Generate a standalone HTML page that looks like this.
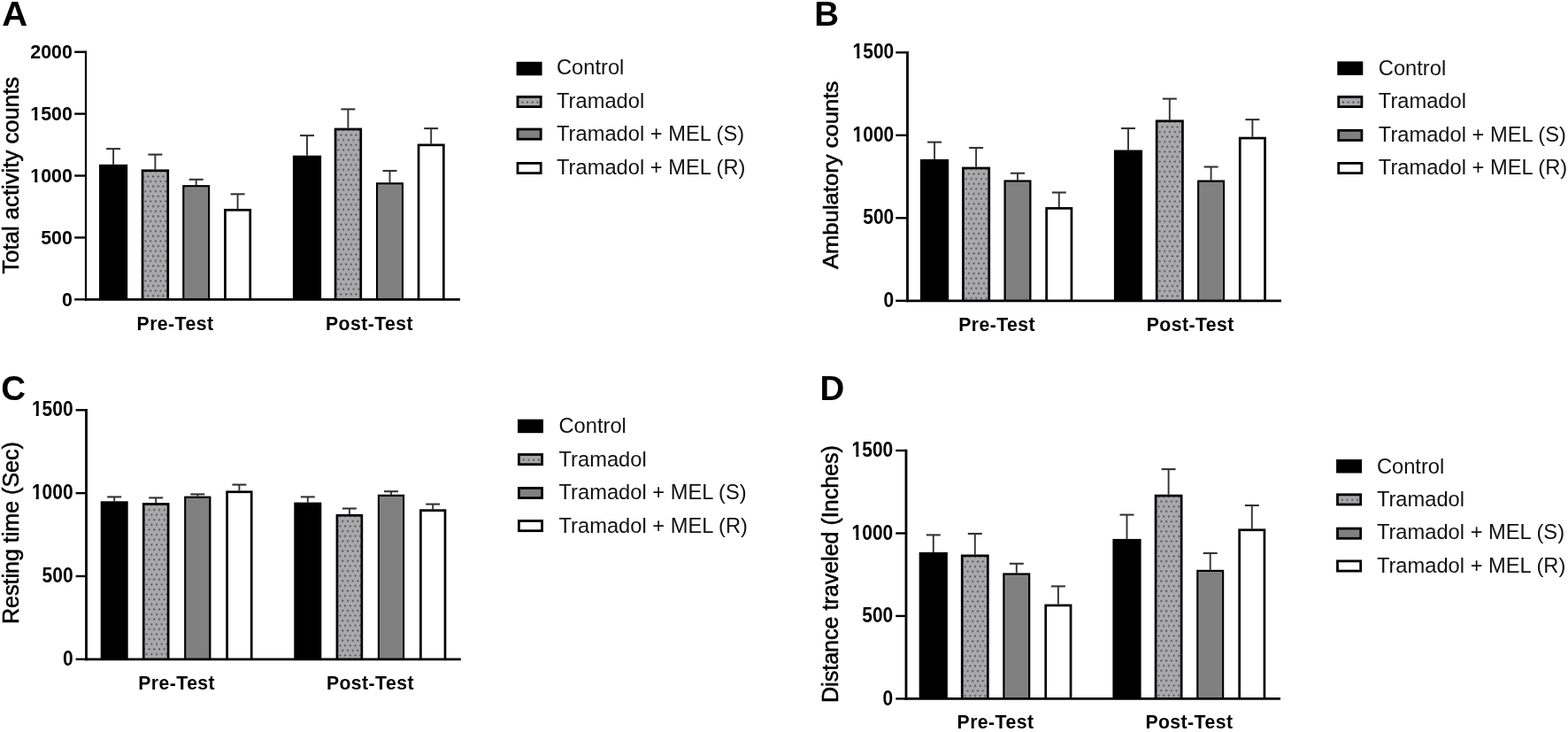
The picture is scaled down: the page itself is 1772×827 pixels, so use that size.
<!DOCTYPE html>
<html><head><meta charset="utf-8"><title>Figure</title>
<style>
html,body{margin:0;padding:0;background:#fff;}
body{width:1772px;height:827px;overflow:hidden;}
svg{display:block;}
text{font-family:'Liberation Sans', Arial, Helvetica, sans-serif;fill:#000;}
.tick{font-weight:bold;text-anchor:end;}
.xl{font-size:21.2px;letter-spacing:0.45px;font-weight:bold;text-anchor:middle;}
.yl{font-weight:normal;stroke:#000;stroke-width:0.55px;}
.pl{font-size:38.5px;font-weight:bold;}
.lg{font-size:23.7px;fill:#111;}
.ax{stroke:#000;stroke-width:2.8;}
.tk{stroke:#000;stroke-width:2.4;}
.eb{stroke:#333;stroke-width:1.9;}
.ec{stroke:#333;stroke-width:2.1;}
</style></head>
<body>
<svg width="1772" height="827" viewBox="0 0 1772 827">
<defs>
<pattern id="dots" patternUnits="userSpaceOnUse" x="0" y="0" width="5.7" height="11.24">
<rect width="5.7" height="11.24" fill="#a9a9ac"/>
<rect x="1.0" y="1.0" width="2.1" height="1.7" fill="#4a4a4a"/>
<rect x="3.85" y="6.62" width="2.1" height="1.7" fill="#4a4a4a"/>
</pattern>
<pattern id="ptA1" patternUnits="userSpaceOnUse" x="159.7" y="191.4" width="5.7" height="11.24"><rect width="5.7" height="11.24" fill="#a9a9ac"/><rect x="3.8" y="1.45" width="2.1" height="1.7" fill="#4a4a4a"/><rect x="0.95" y="7.07" width="2.1" height="1.7" fill="#4a4a4a"/></pattern><pattern id="ptA5" patternUnits="userSpaceOnUse" x="377.7" y="144.6" width="5.7" height="11.24"><rect width="5.7" height="11.24" fill="#a9a9ac"/><rect x="3.8" y="1.45" width="2.1" height="1.7" fill="#4a4a4a"/><rect x="0.95" y="7.07" width="2.1" height="1.7" fill="#4a4a4a"/></pattern><pattern id="plA" patternUnits="userSpaceOnUse" x="585.55" y="113.2" width="5.7" height="11.24"><rect width="5.7" height="11.24" fill="#a9a9ac"/><rect x="3.8" y="1.45" width="2.1" height="1.7" fill="#4a4a4a"/><rect x="0.95" y="7.07" width="2.1" height="1.7" fill="#4a4a4a"/></pattern><pattern id="ptB1" patternUnits="userSpaceOnUse" x="1087.1" y="188.6" width="5.7" height="11.24"><rect width="5.7" height="11.24" fill="#a9a9ac"/><rect x="3.8" y="1.45" width="2.1" height="1.7" fill="#4a4a4a"/><rect x="0.95" y="7.07" width="2.1" height="1.7" fill="#4a4a4a"/></pattern><pattern id="ptB5" patternUnits="userSpaceOnUse" x="1305.8" y="135.4" width="5.7" height="11.24"><rect width="5.7" height="11.24" fill="#a9a9ac"/><rect x="3.8" y="1.45" width="2.1" height="1.7" fill="#4a4a4a"/><rect x="0.95" y="7.07" width="2.1" height="1.7" fill="#4a4a4a"/></pattern><pattern id="plB" patternUnits="userSpaceOnUse" x="1513.25" y="113.2" width="5.7" height="11.24"><rect width="5.7" height="11.24" fill="#a9a9ac"/><rect x="3.8" y="1.45" width="2.1" height="1.7" fill="#4a4a4a"/><rect x="0.95" y="7.07" width="2.1" height="1.7" fill="#4a4a4a"/></pattern><pattern id="ptC1" patternUnits="userSpaceOnUse" x="160.9" y="568.1" width="5.7" height="11.24"><rect width="5.7" height="11.24" fill="#a9a9ac"/><rect x="3.8" y="1.45" width="2.1" height="1.7" fill="#4a4a4a"/><rect x="0.95" y="7.07" width="2.1" height="1.7" fill="#4a4a4a"/></pattern><pattern id="ptC5" patternUnits="userSpaceOnUse" x="379.6" y="580.9" width="5.7" height="11.24"><rect width="5.7" height="11.24" fill="#a9a9ac"/><rect x="3.8" y="1.45" width="2.1" height="1.7" fill="#4a4a4a"/><rect x="0.95" y="7.07" width="2.1" height="1.7" fill="#4a4a4a"/></pattern><pattern id="plC" patternUnits="userSpaceOnUse" x="586.95" y="517.3" width="5.7" height="11.24"><rect width="5.7" height="11.24" fill="#a9a9ac"/><rect x="3.8" y="1.45" width="2.1" height="1.7" fill="#4a4a4a"/><rect x="0.95" y="7.07" width="2.1" height="1.7" fill="#4a4a4a"/></pattern><pattern id="ptD1" patternUnits="userSpaceOnUse" x="1085.9" y="626.5" width="5.7" height="11.24"><rect width="5.7" height="11.24" fill="#a9a9ac"/><rect x="3.8" y="1.45" width="2.1" height="1.7" fill="#4a4a4a"/><rect x="0.95" y="7.07" width="2.1" height="1.7" fill="#4a4a4a"/></pattern><pattern id="ptD5" patternUnits="userSpaceOnUse" x="1304.7" y="558.7" width="5.7" height="11.24"><rect width="5.7" height="11.24" fill="#a9a9ac"/><rect x="3.8" y="1.45" width="2.1" height="1.7" fill="#4a4a4a"/><rect x="0.95" y="7.07" width="2.1" height="1.7" fill="#4a4a4a"/></pattern><pattern id="plD" patternUnits="userSpaceOnUse" x="1512.05" y="562.6" width="5.7" height="11.24"><rect width="5.7" height="11.24" fill="#a9a9ac"/><rect x="3.8" y="1.45" width="2.1" height="1.7" fill="#4a4a4a"/><rect x="0.95" y="7.07" width="2.1" height="1.7" fill="#4a4a4a"/></pattern>
</defs>
<rect width="1772" height="827" fill="#fff"/>
<g id="pA"><line x1="128.1" y1="185.8" x2="128.1" y2="168.1" class="eb"/><line x1="120.1" y1="168.1" x2="136.1" y2="168.1" class="ec"/><rect x="112" y="185.8" width="32.2" height="152.5" fill="#000"/><line x1="175.4" y1="191.4" x2="175.4" y2="174.6" class="eb"/><line x1="167.4" y1="174.6" x2="183.4" y2="174.6" class="ec"/><rect x="159.7" y="191.4" width="31.4" height="146.9" fill="#000"/><rect x="162.4" y="194.1" width="26" height="144.2" fill="url(#ptA1)"/><line x1="221.7" y1="209.1" x2="221.7" y2="202.8" class="eb"/><line x1="213.7" y1="202.8" x2="229.7" y2="202.8" class="ec"/><rect x="206.2" y="209.1" width="31" height="129.2" fill="#000"/><rect x="208.9" y="211.8" width="25.6" height="126.5" fill="#808080" stroke="#969696" stroke-width="0.8"/><line x1="268.6" y1="235.9" x2="268.6" y2="219.3" class="eb"/><line x1="260.6" y1="219.3" x2="276.6" y2="219.3" class="ec"/><rect x="253.1" y="235.9" width="31" height="102.4" fill="#000"/><rect x="255.8" y="238.6" width="25.6" height="99.7" fill="#fff"/><line x1="347" y1="175.7" x2="347" y2="153.1" class="eb"/><line x1="339" y1="153.1" x2="355" y2="153.1" class="ec"/><rect x="330.9" y="175.7" width="32.2" height="162.6" fill="#000"/><line x1="393.4" y1="144.6" x2="393.4" y2="123.4" class="eb"/><line x1="385.4" y1="123.4" x2="401.4" y2="123.4" class="ec"/><rect x="377.7" y="144.6" width="31.4" height="193.7" fill="#000"/><rect x="380.4" y="147.3" width="26" height="191" fill="url(#ptA5)"/><line x1="440.5" y1="206.2" x2="440.5" y2="193" class="eb"/><line x1="432.5" y1="193" x2="448.5" y2="193" class="ec"/><rect x="425" y="206.2" width="31" height="132.1" fill="#000"/><rect x="427.7" y="208.9" width="25.6" height="129.4" fill="#808080" stroke="#969696" stroke-width="0.8"/><line x1="487.2" y1="162.5" x2="487.2" y2="145.1" class="eb"/><line x1="479.2" y1="145.1" x2="495.2" y2="145.1" class="ec"/><rect x="471.7" y="162.5" width="31" height="175.8" fill="#000"/><rect x="474.4" y="165.2" width="25.6" height="173.1" fill="#fff"/><line x1="97" y1="57.5" x2="97" y2="339.7" class="ax" style="stroke-width:2.2"/><line x1="95.9" y1="338.3" x2="520" y2="338.3" class="ax"/><line x1="84.2" y1="338.3" x2="97" y2="338.3" class="tk"/><g transform="translate(0 345.96) scale(1 1.0)"><text x="81.9" y="0" class="tick" style="font-size:21.4px">0</text></g><line x1="84.2" y1="268.4" x2="97" y2="268.4" class="tk"/><g transform="translate(0 276.06) scale(1 1.0)"><text x="81.9" y="0" class="tick" style="font-size:21.4px">500</text></g><line x1="84.2" y1="198.5" x2="97" y2="198.5" class="tk"/><g transform="translate(0 206.16) scale(1 1.0)"><text x="81.9" y="0" class="tick" style="font-size:21.4px">1000</text><rect x="33.25" y="-3.45" width="5.94" height="5.02" fill="#fff"/><rect x="42.36" y="-3.45" width="4.18" height="5.02" fill="#fff"/></g><line x1="84.2" y1="128.6" x2="97" y2="128.6" class="tk"/><g transform="translate(0 136.26) scale(1 1.0)"><text x="81.9" y="0" class="tick" style="font-size:21.4px">1500</text><rect x="33.25" y="-3.45" width="5.94" height="5.02" fill="#fff"/><rect x="42.36" y="-3.45" width="4.18" height="5.02" fill="#fff"/></g><line x1="84.2" y1="58.7" x2="97" y2="58.7" class="tk"/><g transform="translate(0 66.36) scale(1 1.0)"><text x="81.9" y="0" class="tick" style="font-size:21.4px">2000</text></g><text x="0" y="0" transform="translate(198 372.6) scale(1 1.0)" class="xl">Pre-Test</text><text x="0" y="0" transform="translate(417.5 372.6) scale(1 1.0)" class="xl">Post-Test</text><text transform="translate(21.4 309.6) rotate(-90) scale(1 1)" x="0" y="0" class="yl" style="font-size:25.7px">Total activity counts</text><text x="0" y="0" transform="translate(2.3 29) scale(1.04 1)" class="pl">A</text><rect x="583.6" y="69.8" width="29" height="15.5" fill="#000"/><text x="629" y="84.4" class="lg">Control</text><rect x="585" y="109.4" width="26.2" height="11.2" fill="url(#plA)" stroke="#000" stroke-width="2.8"/><text x="629" y="121.6" class="lg">Tramadol</text><rect x="585" y="146" width="26.2" height="11.2" fill="#808080" stroke="#000" stroke-width="2.8"/><text x="629" y="159.1" class="lg">Tramadol + MEL (S)</text><rect x="585" y="184.4" width="26.2" height="11.2" fill="#fff" stroke="#000" stroke-width="2.8"/><text x="629" y="196.5" class="lg">Tramadol + MEL (R)</text></g>
<g id="pB"><line x1="1056.1" y1="179.9" x2="1056.1" y2="160.6" class="eb"/><line x1="1048.1" y1="160.6" x2="1064.1" y2="160.6" class="ec"/><rect x="1040" y="179.9" width="32.2" height="159.9" fill="#000"/><line x1="1103.1" y1="188.6" x2="1103.1" y2="167" class="eb"/><line x1="1095.1" y1="167" x2="1111.1" y2="167" class="ec"/><rect x="1087.1" y="188.6" width="32" height="151.2" fill="#000"/><rect x="1089.8" y="191.3" width="26.6" height="148.5" fill="url(#ptB1)"/><line x1="1150" y1="203.4" x2="1150" y2="195.7" class="eb"/><line x1="1142" y1="195.7" x2="1158" y2="195.7" class="ec"/><rect x="1134.5" y="203.4" width="31" height="136.4" fill="#000"/><rect x="1137.2" y="206.1" width="25.6" height="133.7" fill="#808080" stroke="#969696" stroke-width="0.8"/><line x1="1196.8" y1="234" x2="1196.8" y2="217.5" class="eb"/><line x1="1188.8" y1="217.5" x2="1204.8" y2="217.5" class="ec"/><rect x="1181.3" y="234" width="31" height="105.8" fill="#000"/><rect x="1184" y="236.7" width="25.6" height="103.1" fill="#fff"/><line x1="1275" y1="169.5" x2="1275" y2="145" class="eb"/><line x1="1267" y1="145" x2="1283" y2="145" class="ec"/><rect x="1258.9" y="169.5" width="32.2" height="170.3" fill="#000"/><line x1="1321.8" y1="135.4" x2="1321.8" y2="111.6" class="eb"/><line x1="1313.8" y1="111.6" x2="1329.8" y2="111.6" class="ec"/><rect x="1305.8" y="135.4" width="32" height="204.4" fill="#000"/><rect x="1308.5" y="138.1" width="26.6" height="201.7" fill="url(#ptB5)"/><line x1="1368.6" y1="203.5" x2="1368.6" y2="188.5" class="eb"/><line x1="1360.6" y1="188.5" x2="1376.6" y2="188.5" class="ec"/><rect x="1353.1" y="203.5" width="31" height="136.3" fill="#000"/><rect x="1355.8" y="206.2" width="25.6" height="133.6" fill="#808080" stroke="#969696" stroke-width="0.8"/><line x1="1415.4" y1="154.7" x2="1415.4" y2="135.1" class="eb"/><line x1="1407.4" y1="135.1" x2="1423.4" y2="135.1" class="ec"/><rect x="1399.9" y="154.7" width="31" height="185.1" fill="#000"/><rect x="1402.6" y="157.4" width="25.6" height="182.4" fill="#fff"/><line x1="1025.5" y1="58.1" x2="1025.5" y2="341.2" class="ax" style="stroke-width:2.8"/><line x1="1024.1" y1="339.8" x2="1448" y2="339.8" class="ax"/><line x1="1012.3" y1="339.8" x2="1025.5" y2="339.8" class="tk"/><g transform="translate(0 346.97) scale(1 1.1)"><text x="1010.3" y="0" class="tick" style="font-size:21px">0</text></g><line x1="1012.3" y1="246.3" x2="1025.5" y2="246.3" class="tk"/><g transform="translate(0 253.47) scale(1 1.1)"><text x="1010.3" y="0" class="tick" style="font-size:21px">500</text></g><line x1="1012.3" y1="152.8" x2="1025.5" y2="152.8" class="tk"/><g transform="translate(0 159.97) scale(1 1.1)"><text x="1010.3" y="0" class="tick" style="font-size:21px">1000</text><rect x="962.56" y="-3.38" width="5.82" height="4.92" fill="#fff"/><rect x="971.5" y="-3.38" width="4.1" height="4.92" fill="#fff"/></g><line x1="1012.3" y1="59.3" x2="1025.5" y2="59.3" class="tk"/><g transform="translate(0 66.47) scale(1 1.1)"><text x="1010.3" y="0" class="tick" style="font-size:21px">1500</text><rect x="962.56" y="-3.38" width="5.82" height="4.92" fill="#fff"/><rect x="971.5" y="-3.38" width="4.1" height="4.92" fill="#fff"/></g><text x="0" y="0" transform="translate(1126.6 373.8) scale(1 1.08)" class="xl">Pre-Test</text><text x="0" y="0" transform="translate(1345.2 373.8) scale(1 1.08)" class="xl">Post-Test</text><text transform="translate(947.4 304.1) rotate(-90) scale(1.056 1)" x="0" y="0" class="yl" style="font-size:24.3px">Ambulatory counts</text><text x="0" y="0" transform="translate(920.3 29)" class="pl">B</text><rect x="1511.3" y="69.4" width="29" height="15.5" fill="#000"/><text x="1557.8" y="84.6" class="lg">Control</text><rect x="1512.7" y="109.4" width="26.2" height="11.2" fill="url(#plB)" stroke="#000" stroke-width="2.8"/><text x="1557.8" y="122.1" class="lg">Tramadol</text><rect x="1512.7" y="147.3" width="26.2" height="11.2" fill="#808080" stroke="#000" stroke-width="2.8"/><text x="1557.8" y="160" class="lg">Tramadol + MEL (S)</text><rect x="1512.7" y="184.4" width="26.2" height="11.2" fill="#fff" stroke="#000" stroke-width="2.8"/><text x="1557.8" y="197.2" class="lg">Tramadol + MEL (R)</text></g>
<g id="pC"><line x1="129.2" y1="566.3" x2="129.2" y2="561.4" class="eb"/><line x1="121.2" y1="561.4" x2="137.2" y2="561.4" class="ec"/><rect x="113.7" y="566.3" width="31" height="178.5" fill="#000"/><line x1="176.2" y1="568.1" x2="176.2" y2="562.4" class="eb"/><line x1="168.2" y1="562.4" x2="184.2" y2="562.4" class="ec"/><rect x="160.9" y="568.1" width="30.6" height="176.7" fill="#000"/><rect x="163.6" y="570.8" width="25.2" height="174" fill="url(#ptC1)"/><line x1="223.3" y1="560.6" x2="223.3" y2="558.4" class="eb"/><line x1="215.3" y1="558.4" x2="231.3" y2="558.4" class="ec"/><rect x="208.15" y="560.6" width="30.3" height="184.2" fill="#000"/><rect x="210.85" y="563.3" width="24.9" height="181.5" fill="#808080" stroke="#969696" stroke-width="0.8"/><line x1="270.4" y1="554.4" x2="270.4" y2="547.6" class="eb"/><line x1="262.4" y1="547.6" x2="278.4" y2="547.6" class="ec"/><rect x="255.25" y="554.4" width="30.3" height="190.4" fill="#000"/><rect x="257.95" y="557.1" width="24.9" height="187.7" fill="#fff"/><line x1="347.8" y1="567.6" x2="347.8" y2="561.4" class="eb"/><line x1="339.8" y1="561.4" x2="355.8" y2="561.4" class="ec"/><rect x="332.3" y="567.6" width="31" height="177.2" fill="#000"/><line x1="394.9" y1="580.9" x2="394.9" y2="574.5" class="eb"/><line x1="386.9" y1="574.5" x2="402.9" y2="574.5" class="ec"/><rect x="379.6" y="580.9" width="30.6" height="163.9" fill="#000"/><rect x="382.3" y="583.6" width="25.2" height="161.2" fill="url(#ptC5)"/><line x1="442" y1="558.7" x2="442" y2="555.2" class="eb"/><line x1="434" y1="555.2" x2="450" y2="555.2" class="ec"/><rect x="426.85" y="558.7" width="30.3" height="186.1" fill="#000"/><rect x="429.55" y="561.4" width="24.9" height="183.4" fill="#808080" stroke="#969696" stroke-width="0.8"/><line x1="489.2" y1="575.3" x2="489.2" y2="569.6" class="eb"/><line x1="481.2" y1="569.6" x2="497.2" y2="569.6" class="ec"/><rect x="474.05" y="575.3" width="30.3" height="169.5" fill="#000"/><rect x="476.75" y="578" width="24.9" height="166.8" fill="#fff"/><line x1="97.5" y1="462.1" x2="97.5" y2="746.2" class="ax" style="stroke-width:2.8"/><line x1="96.1" y1="744.8" x2="520.8" y2="744.8" class="ax"/><line x1="85.6" y1="744.8" x2="97.5" y2="744.8" class="tk"/><g transform="translate(0 751.97) scale(1 1.1)"><text x="82.6" y="0" class="tick" style="font-size:21px">0</text></g><line x1="85.6" y1="650.97" x2="97.5" y2="650.97" class="tk"/><g transform="translate(0 658.14) scale(1 1.1)"><text x="82.6" y="0" class="tick" style="font-size:21px">500</text></g><line x1="85.6" y1="557.13" x2="97.5" y2="557.13" class="tk"/><g transform="translate(0 564.3) scale(1 1.1)"><text x="82.6" y="0" class="tick" style="font-size:21px">1000</text><rect x="34.86" y="-3.38" width="5.82" height="4.92" fill="#fff"/><rect x="43.8" y="-3.38" width="4.1" height="4.92" fill="#fff"/></g><line x1="85.6" y1="463.3" x2="97.5" y2="463.3" class="tk"/><g transform="translate(0 470.47) scale(1 1.1)"><text x="82.6" y="0" class="tick" style="font-size:21px">1500</text><rect x="34.86" y="-3.38" width="5.82" height="4.92" fill="#fff"/><rect x="43.8" y="-3.38" width="4.1" height="4.92" fill="#fff"/></g><text x="0" y="0" transform="translate(199.7 778.9) scale(1 1.03)" class="xl">Pre-Test</text><text x="0" y="0" transform="translate(418.4 778.9) scale(1 1.03)" class="xl">Post-Test</text><text transform="translate(20.8 705.1) rotate(-90) scale(1 1)" x="0" y="0" class="yl" style="font-size:25.05px">Resting time (Sec)</text><text x="0" y="0" transform="translate(1.3 452)" class="pl">C</text><rect x="585" y="473.7" width="29" height="15.5" fill="#000"/><text x="631.5" y="489.1" class="lg">Control</text><rect x="586.4" y="513.5" width="26.2" height="11.2" fill="url(#plC)" stroke="#000" stroke-width="2.8"/><text x="631.5" y="526.6" class="lg">Tramadol</text><rect x="586.4" y="551.4" width="26.2" height="11.2" fill="#808080" stroke="#000" stroke-width="2.8"/><text x="631.5" y="564" class="lg">Tramadol + MEL (S)</text><rect x="586.4" y="588.5" width="26.2" height="11.2" fill="#fff" stroke="#000" stroke-width="2.8"/><text x="631.5" y="601.5" class="lg">Tramadol + MEL (R)</text></g>
<g id="pD"><line x1="1054.8" y1="623.9" x2="1054.8" y2="604.4" class="eb"/><line x1="1046.8" y1="604.4" x2="1062.8" y2="604.4" class="ec"/><rect x="1038.7" y="623.9" width="32.2" height="165.5" fill="#000"/><line x1="1101.8" y1="626.5" x2="1101.8" y2="603" class="eb"/><line x1="1093.8" y1="603" x2="1109.8" y2="603" class="ec"/><rect x="1085.9" y="626.5" width="31.8" height="162.9" fill="#000"/><rect x="1088.6" y="629.2" width="26.4" height="160.2" fill="url(#ptD1)"/><line x1="1148.8" y1="647.4" x2="1148.8" y2="636.8" class="eb"/><line x1="1140.8" y1="636.8" x2="1156.8" y2="636.8" class="ec"/><rect x="1133.3" y="647.4" width="31" height="142" fill="#000"/><rect x="1136" y="650.1" width="25.6" height="139.3" fill="#808080" stroke="#969696" stroke-width="0.8"/><line x1="1195.9" y1="682.6" x2="1195.9" y2="662.4" class="eb"/><line x1="1187.9" y1="662.4" x2="1203.9" y2="662.4" class="ec"/><rect x="1180.4" y="682.6" width="31" height="106.8" fill="#000"/><rect x="1183.1" y="685.3" width="25.6" height="104.1" fill="#fff"/><line x1="1273.5" y1="608.9" x2="1273.5" y2="581.6" class="eb"/><line x1="1265.5" y1="581.6" x2="1281.5" y2="581.6" class="ec"/><rect x="1257.4" y="608.9" width="32.2" height="180.5" fill="#000"/><line x1="1320.6" y1="558.7" x2="1320.6" y2="530.1" class="eb"/><line x1="1312.6" y1="530.1" x2="1328.6" y2="530.1" class="ec"/><rect x="1304.7" y="558.7" width="31.8" height="230.7" fill="#000"/><rect x="1307.4" y="561.4" width="26.4" height="228" fill="url(#ptD5)"/><line x1="1367.7" y1="643.8" x2="1367.7" y2="625" class="eb"/><line x1="1359.7" y1="625" x2="1375.7" y2="625" class="ec"/><rect x="1352.2" y="643.8" width="31" height="145.6" fill="#000"/><rect x="1354.9" y="646.5" width="25.6" height="142.9" fill="#808080" stroke="#969696" stroke-width="0.8"/><line x1="1414.8" y1="597.4" x2="1414.8" y2="571" class="eb"/><line x1="1406.8" y1="571" x2="1422.8" y2="571" class="ec"/><rect x="1399.3" y="597.4" width="31" height="192" fill="#000"/><rect x="1402" y="600.1" width="25.6" height="189.3" fill="#fff"/><line x1="1024" y1="507.8" x2="1024" y2="790.8" class="ax" style="stroke-width:2.8"/><line x1="1022.6" y1="789.4" x2="1447" y2="789.4" class="ax"/><line x1="1012.3" y1="789.4" x2="1024" y2="789.4" class="tk"/><g transform="translate(0 796.57) scale(1 1.1)"><text x="1009.3" y="0" class="tick" style="font-size:21px">0</text></g><line x1="1012.3" y1="695.93" x2="1024" y2="695.93" class="tk"/><g transform="translate(0 703.1) scale(1 1.1)"><text x="1009.3" y="0" class="tick" style="font-size:21px">500</text></g><line x1="1012.3" y1="602.47" x2="1024" y2="602.47" class="tk"/><g transform="translate(0 609.64) scale(1 1.1)"><text x="1009.3" y="0" class="tick" style="font-size:21px">1000</text><rect x="961.56" y="-3.38" width="5.82" height="4.92" fill="#fff"/><rect x="970.5" y="-3.38" width="4.1" height="4.92" fill="#fff"/></g><line x1="1012.3" y1="509" x2="1024" y2="509" class="tk"/><g transform="translate(0 516.17) scale(1 1.1)"><text x="1009.3" y="0" class="tick" style="font-size:21px">1500</text><rect x="961.56" y="-3.38" width="5.82" height="4.92" fill="#fff"/><rect x="970.5" y="-3.38" width="4.1" height="4.92" fill="#fff"/></g><text x="0" y="0" transform="translate(1125 823.3) scale(1 1.0)" class="xl">Pre-Test</text><text x="0" y="0" transform="translate(1343.9 823.3) scale(1 1.0)" class="xl">Post-Test</text><text transform="translate(947 794) rotate(-90) scale(1 1)" x="0" y="0" class="yl" style="font-size:25.05px">Distance traveled (Inches)</text><text x="0" y="0" transform="translate(926.5 451.8)" class="pl">D</text><rect x="1510.1" y="519" width="29" height="15.5" fill="#000"/><text x="1555.9" y="534.8" class="lg">Control</text><rect x="1511.5" y="558.8" width="26.2" height="11.2" fill="url(#plD)" stroke="#000" stroke-width="2.8"/><text x="1555.9" y="572" class="lg">Tramadol</text><rect x="1511.5" y="597.1" width="26.2" height="11.2" fill="#808080" stroke="#000" stroke-width="2.8"/><text x="1555.9" y="609.3" class="lg">Tramadol + MEL (S)</text><rect x="1511.5" y="633.9" width="26.2" height="11.2" fill="#fff" stroke="#000" stroke-width="2.8"/><text x="1555.9" y="647" class="lg">Tramadol + MEL (R)</text></g>
</svg>
</body></html>
